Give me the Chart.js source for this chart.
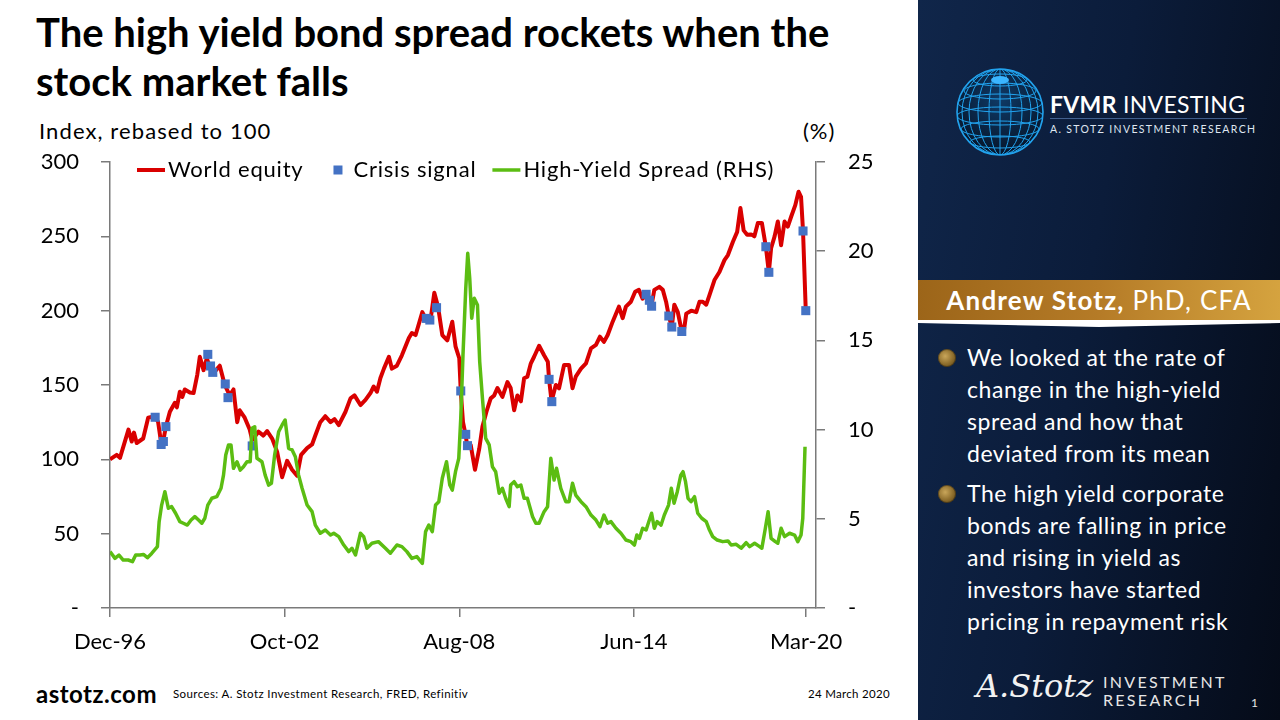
<!DOCTYPE html>
<html>
<head>
<meta charset="utf-8">
<script src="https://cdn.jsdelivr.net/npm/chart.js@4.4.1/dist/chart.umd.min.js"></script>
<style>
  html,body{margin:0;padding:0;}
  body{width:1280px;height:720px;overflow:hidden;position:relative;background:#fff;font-family:Lato,"Open Sans",sans-serif;color:#000;}
  .abs{position:absolute;white-space:nowrap;}
  #title{left:36px;top:8px;font-weight:bold;font-size:40px;line-height:49px;letter-spacing:0;}
  #ylab{left:39px;top:120px;font-size:22px;line-height:22px;letter-spacing:1.1px;}
  #y2lab{left:803px;top:120px;font-size:22px;line-height:22px;letter-spacing:1px;}
  #chartbox{position:absolute;left:0;top:110px;width:918px;height:560px;}
  #site{left:36px;top:680px;font-weight:bold;font-size:24px;line-height:28px;letter-spacing:0.5px;}
  #src{left:173px;top:686px;font-size:11.5px;line-height:16px;letter-spacing:0.4px;}
  #date{left:808px;top:686px;font-size:11.5px;line-height:16px;letter-spacing:0.3px;}
  #panel{position:absolute;left:918px;top:0;width:362px;height:720px;overflow:hidden;
    background:linear-gradient(100deg,#10264a 0%,#0b1c3a 45%,#050b18 100%);}
  #band{position:absolute;left:0;top:280px;width:362px;height:40px;
    background:linear-gradient(90deg,#9c6519 0%,#b57b27 50%,#d5a33f 100%);
    color:#fff;font-size:26px;line-height:40px;text-align:center;letter-spacing:1.2px;white-space:nowrap;}
  #fvmr{left:132px;top:91px;color:#fff;font-size:23px;line-height:26px;letter-spacing:0.3px;}
  #fvmrline{position:absolute;left:132px;top:118px;width:197px;height:1px;background:rgba(110,150,210,0.55);}
  #asr{left:132px;top:122px;color:#dfe6f0;font-size:10.5px;line-height:14px;letter-spacing:1.35px;}
  #bullets{position:absolute;left:49px;top:341px;color:#fff;font-size:23px;line-height:32px;letter-spacing:0.55px;white-space:nowrap;}
  #bullets p{margin:0 0 8px 0;position:relative;}
  .dot{position:absolute;left:-29px;top:8px;width:18px;height:18px;border-radius:50%;
    background:radial-gradient(circle at 40% 40%,#c9a65a 0%,#8a6a2a 55%,#4d3a14 100%);
    box-shadow:inset 0 0 0 1px rgba(0,0,0,0.35);}
  #sig{left:58px;top:664px;color:#f2f2f2;font-family:"DejaVu Serif",serif;font-style:italic;font-size:32px;line-height:44px;}
  #ir{left:185px;top:673px;color:#e6e6e6;font-size:16px;line-height:18px;letter-spacing:2.3px;}
  #pg{left:333px;top:696px;color:#e6e6e6;font-size:12px;line-height:14px;}
</style>
</head>
<body>
<div id="title" class="abs">The high yield bond spread rockets when the<br>stock market falls</div>
<div id="ylab" class="abs">Index, rebased to 100</div>
<div id="y2lab" class="abs">(%)</div>
<div id="chartbox"><canvas id="c"></canvas></div>
<div id="site" class="abs">astotz.com</div>
<div id="src" class="abs">Sources: A. Stotz Investment Research, FRED, Refinitiv</div>
<div id="date" class="abs">24 March 2020</div>

<div id="panel">
  <svg style="position:absolute;left:36px;top:66px" width="92" height="92" viewBox="0 0 92 92">
    <defs>
      <clipPath id="gc"><circle cx="46" cy="46" r="43"/></clipPath>
      <radialGradient id="gg" cx="50%" cy="35%" r="60%">
        <stop offset="0" stop-color="#0f3a66"/><stop offset="1" stop-color="#07182f"/>
      </radialGradient>
    </defs>
    <circle cx="46" cy="46" r="43" fill="url(#gg)" stroke="#22a3ee" stroke-width="1.6"/>
    <g clip-path="url(#gc)" fill="none" stroke="#22a3ee" stroke-width="1">
      <ellipse cx="46" cy="46" rx="11" ry="43"/><ellipse cx="46" cy="46" rx="22" ry="43"/>
      <ellipse cx="46" cy="46" rx="31" ry="43"/><ellipse cx="46" cy="46" rx="38" ry="43"/>
      <line x1="46" y1="3" x2="46" y2="89"/>
      <ellipse cx="46" cy="14" rx="27" ry="6"/><ellipse cx="46" cy="25" rx="36" ry="8"/>
      <ellipse cx="46" cy="37" rx="42" ry="9"/><ellipse cx="46" cy="50" rx="43" ry="9"/>
      <ellipse cx="46" cy="63" rx="39" ry="8"/><ellipse cx="46" cy="76" rx="30" ry="6"/>
    </g>
    <ellipse cx="46" cy="14" rx="9" ry="4" fill="#3bb6ff"/>
  </svg>
  <div id="fvmr" class="abs"><b>FVMR</b> INVESTING</div>
  <div id="fvmrline"></div>
  <div id="asr" class="abs">A. STOTZ INVESTMENT RESEARCH</div>
  <div id="band"><b>Andrew Stotz,</b> PhD, CFA</div>
  <svg style="position:absolute;left:0;top:320px" width="362" height="10" viewBox="0 0 362 10">
    <polygon points="0,0 362,0 362,3 181,7 0,3" fill="#ffffff"/>
  </svg>
  <div id="bullets">
    <p><span class="dot"></span>We looked at the rate of<br>change in the high-yield<br>spread and how that<br>deviated from its mean</p>
    <p><span class="dot"></span>The high yield corporate<br>bonds are falling in price<br>and rising in yield as<br>investors have started<br>pricing in repayment risk</p>
  </div>
  <div id="sig" class="abs">A.Stotz</div>
  <div id="ir" class="abs">INVESTMENT<br>RESEARCH</div>
  <div id="pg" class="abs">1</div>
</div>

<script>
// x positions are months since Dec-96
const TICK_MONTHS=[0,70,140,210,279];
const TICK_LABELS=['Dec-96','Oct-02','Aug-08','Jun-14','Mar-20'];

const EQ_MONTHS=[0,2.7,4,7.4,8.7,9.6,10.7,13.3,15.3,18,19.3,20.5,21.3,22.4,24,26,26.8,28,29,30,
 32,33.5,35,36,37.5,38.8,40,42,44,46,48,49.5,51,52,54,56,57,59.5,61.5,63,
 65,67,69,71,73,75,76.6,79,81,82.3,84.3,86.3,88.4,90,91.7,94.4,96.4,98,100.4,102.4,
 104.4,105.7,107,108.4,109.8,111.8,113,115,117,119.8,121,122.5,125.2,126.5,128.5,130,131.5,133.2,135.2,137.2,
 138.5,140,140.6,141.5,142.6,143.2,144.6,146.3,148,149.3,150.9,152.6,154,155.3,157.3,159.3,160.6,162,163.3,164.7,
 166,167.3,168.7,170,172,174,175.5,176,177,178.7,180,182,184,185.4,186.7,188.8,190.8,192.8,194.8,196.4,
 198,199.5,201.5,204,205.5,206.8,208.8,210.5,212,213.5,214.9,216,217,218.2,220.2,221.6,222.9,224,225.2,226.2,
 227.6,229.2,230,231,233,235,236.3,237.6,239,240.3,242.3,244.3,246.3,247.7,249.7,251.4,252.7,254,255.4,257,
 258.3,259.7,261.3,262.9,264.1,265,266.4,267.7,269,270.4,271.7,273,274.7,276,277,277.8,278.9];
const EQ_VALUES=[100,103,101,120,112,118,111,114,128,129,125,111,112,122,132,138,135,145.5,142,147,
 145,144.6,157,169,160,168,162,159,163,150,143,147,125,133,128,120,113,118.6,116,119,
 114,105,88,99,93,89,103,107.5,110,116,125,129,125,127,123,132,141,143,136.5,140,
 144.6,149,145.5,154.7,161,169,161,163,170,181.6,185,183.6,199,195,194,212,202.7,183.6,180,192.6,
 176,168,146,125,116,109,109.6,93,107,122,132,141,143,148,142,152,148,133,143,139,
 154.5,155.6,164.6,169,176.4,170,165.7,153.8,139,150,147.8,163.4,163.4,147.8,155.6,161,164.6,174.7,177,182.5,
 179,183.6,192.6,202.7,195,202.7,206,212.7,214,208,211,207,203,214,216,214,206,196.4,189,204,
 199,186,186,198,200,199,206,206,204,210.5,220.6,226,234,237.4,246.4,253,269,254,251,251.3,
 250,259,259,243,225.8,242,250,260,244,260,256.5,263,271,280,276.6,253.6,200];

const HY_MONTHS=[0,2,3.6,5.3,7.3,9,10.3,12,13.4,15,16.7,19,19.7,20.7,22,23.4,24.7,26.3,28,29.4,
 31,32.5,34,35.5,36.8,38,39.2,40.8,42.8,44.5,45.5,46.4,47.5,48.5,49.5,50.9,52.2,53.5,54.9,56.2,
 56.9,58,58.9,60.9,62.2,63.6,64.7,66,67.6,69,70.2,71.6,73,74.3,75.6,77,79,81,82.3,84.3,
 86.3,88.4,89.7,91.7,93.7,95.7,97,98.4,100.4,101.7,103,105,107.6,110.4,112.4,115,117,119,121,123,
 125.2,126.5,127.8,129.2,130.5,131.8,133.2,134.9,136.2,137.2,138.5,139.8,140.6,141.5,142.6,143.4,144.2,145,146,147.3,
 148.2,149.3,150.6,152,153.3,154.6,156,157.3,158.6,160,160.6,162,163.3,164.7,166,167.3,169.4,170.7,172,174,
 175.4,176.7,178,179,180.7,182.7,184,185.4,186.7,188.8,190.8,192.8,194.8,196.4,198,199.5,200.8,202.8,204.8,206.8,
 208.8,210.2,211.2,212.2,213.5,214.9,216.2,217.1,218.2,219.3,220.9,222.2,223.9,225,226.1,227.4,228.8,229.7,230.7,231.7,
 232.9,234.3,235.6,237.2,239,240.3,241.6,243.4,245.6,247.7,249,251,253,255,256.4,258.4,260.4,261.3,262.7,263.8,
 265,266.7,267.7,269,270.4,272.4,274.4,275.7,277,277.7,278.6];
const HY_VALUES=[3.16,2.78,2.97,2.69,2.69,2.6,2.97,2.97,3.0,2.82,3.06,3.44,4.84,5.77,6.52,5.59,5.68,5.31,4.84,4.75,
 4.65,4.93,5.12,4.93,4.75,5.03,5.77,6.15,6.24,6.71,7.45,8.58,9.14,9.14,7.83,8.2,7.73,7.92,8.2,8.2,
 10.07,10.16,8.39,8.2,7.45,6.89,6.99,8.58,9.88,10.26,10.54,8.95,8.86,8.48,7.45,6.71,5.77,5.4,4.65,4.19,
 4.37,4.09,4.19,4.0,3.53,3.16,3.35,2.97,4.19,4.0,3.35,3.63,3.72,3.35,3.07,3.53,3.44,3.16,2.78,2.88,
 2.5,4.28,4.65,4.28,5.77,5.96,7.27,8.2,6.89,6.61,7.64,8.39,10.63,14.2,17.9,19.88,18.48,16.24,17.36,16.98,
 13.8,11.75,9.51,9.14,7.92,7.64,6.43,6.71,6.15,5.68,6.89,7.08,6.8,6.89,6.15,6.15,5.12,4.75,4.75,5.4,
 5.68,8.39,7.17,7.83,6.71,5.96,5.96,6.99,6.33,5.96,5.68,5.21,4.93,4.56,5.21,4.75,4.84,4.47,4.19,3.81,
 3.72,3.53,4.09,3.9,4.47,4.37,4.93,5.31,4.47,4.84,4.65,5.21,5.77,6.71,5.87,6.52,7.45,7.64,7.08,6.15,
 5.96,6.24,5.31,5.03,4.84,4.37,4.0,3.81,3.72,3.76,3.53,3.57,3.35,3.66,3.44,3.63,3.44,3.35,4.47,5.4,
 3.9,3.72,3.63,4.47,4.0,4.19,4.09,3.72,4.09,5.03,9.04];

const SIG_MONTHS=[18.1,20.5,21.4,22.4,39.2,40.3,41.2,46.2,47.3,57,126.8,128.2,130.9,140.6,
 142.6,143.3,176,177.1,214.9,216.2,217.1,224,225.2,229.2,262.9,264.1,277.8,278.9];
const SIG_VALUES=[128.3,110,112,122,170.6,162.8,158.5,150.7,141.5,109,194.8,193.7,202,146,
 116.8,109.2,153.8,138.8,211,207,203,196.4,189,186,243,225.8,253.6,200];

const RED='#d90000', GREEN='#5bbd12', BLUE='#4472c4', AXIS='#7a7a7a';

function pts(xs,ys){return xs.map((x,i)=>({x,y:ys[i]}));}

// legend drawn inside the plot, in the same row as the reference
const inlineLegend={id:'inlineLegend',afterDraw(chart){
  const {ctx,chartArea}=chart;
  const ds=chart.data.datasets;
  const y=chartArea.top+8;
  let x=chartArea.left+27;
  ctx.save();
  ctx.font='22px Lato';ctx.textBaseline='middle';ctx.fillStyle='#000';
  if('letterSpacing' in ctx) ctx.letterSpacing='0.8px';
  const lineItem=(d,gapAfter)=>{
    ctx.strokeStyle=d.borderColor;ctx.lineWidth=d.borderWidth;
    ctx.beginPath();ctx.moveTo(x,y);ctx.lineTo(x+28,y);ctx.stroke();
    x+=31;ctx.fillText(d.label,x,y);x+=ctx.measureText(d.label).width+gapAfter;
  };
  lineItem(ds[2],30);
  ctx.fillStyle=ds[1].backgroundColor;ctx.fillRect(x,y-4.5,9,9);
  x+=20;ctx.fillStyle='#000';ctx.fillText(ds[1].label,x,y);x+=ctx.measureText(ds[1].label).width+16;
  lineItem(ds[0],0);
  ctx.restore();
}};

function axisCommon(){
  return {grid:{drawOnChartArea:false,drawTicks:true,tickLength:9,color:AXIS,lineWidth:1.5},
          border:{color:AXIS,width:1.5}};
}

function draw(){
  Chart.defaults.font.family='Lato';
  Chart.defaults.color='#000';
  new Chart(document.getElementById('c'),{
    type:'line',
    data:{datasets:[
      {label:'High-Yield Spread (RHS)',data:pts(HY_MONTHS,HY_VALUES),yAxisID:'y2',
       borderColor:GREEN,borderWidth:3.5,pointRadius:0,tension:0,borderJoinStyle:'round'},
      {label:'Crisis signal',data:pts(SIG_MONTHS,SIG_VALUES),yAxisID:'y',showLine:false,
       pointStyle:'rect',pointRadius:6.4,backgroundColor:BLUE,borderWidth:0,pointBorderWidth:0},
      {label:'World equity',data:pts(EQ_MONTHS,EQ_VALUES),yAxisID:'y',
       borderColor:RED,borderWidth:4,pointRadius:0,tension:0,borderJoinStyle:'round'}
    ]},
    options:{
      responsive:true,maintainAspectRatio:false,animation:false,
      layout:{padding:{top:52,left:0,right:0,bottom:0}},
      plugins:{legend:{display:false},tooltip:{enabled:false}},
      scales:{
        x:Object.assign(axisCommon(),{type:'linear',min:0,max:283,
          afterBuildTicks:s=>{s.ticks=TICK_MONTHS.map(v=>({value:v}));},
          afterFit:s=>{s.height=62;},
          ticks:{font:{size:22},padding:12,maxRotation:0,autoSkip:false,
            callback:v=>TICK_LABELS[TICK_MONTHS.indexOf(v)]}}),
        y:Object.assign(axisCommon(),{position:'left',min:0,max:300,
          afterFit:s=>{s.width=110;},
          ticks:{stepSize:50,font:{size:22},padding:22,callback:v=>v===0?'-':v}}),
        y2:Object.assign(axisCommon(),{position:'right',min:0,max:25,
          afterFit:s=>{s.width=102;},
          ticks:{stepSize:5,font:{size:22},padding:23,callback:v=>v===0?'-':v}})
      }
    },
    plugins:[inlineLegend]
  });
}
(document.fonts&&document.fonts.load)?document.fonts.load('22px Lato').then(draw,draw):draw();
</script>
</body>
</html>
